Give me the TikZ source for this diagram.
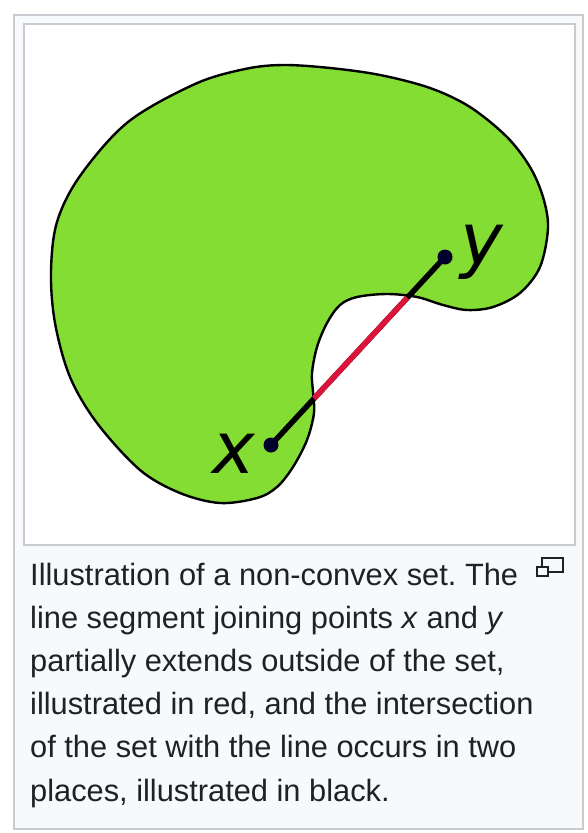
\documentclass[tikz,border=0pt]{standalone}
\usepackage{fontspec}
\setmainfont{Liberation Sans}
\newfontfamily\labelfont{DejaVu Sans}
\usetikzlibrary{calc}

\definecolor{setgreen}{RGB}{132,221,51}
\definecolor{outred}{RGB}{220,20,60}
\definecolor{dotnavy}{RGB}{0,0,45}
\definecolor{framegray}{RGB}{200,204,209}
\definecolor{capbg}{RGB}{248,249,250}
\definecolor{captext}{RGB}{32,33,34}

\begin{document}
\frenchspacing
\begin{tikzpicture}[
    x=1pt, y=-1pt,
    framebox/.style={
        draw=framegray,
        line width=2pt,
        fill=#1,
    },
    setshape/.style={
        draw=black,
        line width=2.4pt,
        fill=setgreen,
        line join=round,
    },
    segpart/.style={
        line width=5.5pt,
        draw=#1,
    },
    ptdot/.style={
        circle,
        fill=dotnavy,
        minimum size=15pt,
        inner sep=0pt,
    },
    ptlabel/.style={
        font=\labelfont\itshape\fontsize{72}{72}\selectfont,
        anchor=base,
        inner sep=0pt,
    },
    captionlines/.style={
        font=\fontsize{30.8}{43.1}\selectfont,
        text=captext,
        align=left,
        anchor=base west,
        inner sep=0pt,
    },
    iconbox/.style={
        draw=captext,
        line width=1.5pt,
    },
]
\useasboundingbox (0,0) rectangle (587,833);

% === Frame ===
\draw[framebox=capbg] (13.5,14.5) rectangle (583,829);
\draw[framebox=white] (23.5,24) rectangle (575,545);

% === Non-convex set ===
\draw[setshape] plot[smooth cycle, tension=0.55] coordinates {
    (283,65) (330,68) (380,75) (430,88) (470,107) (507,137)
    (530,167) (543,197) (548,228) (540,267) (520,293) (493,307)
    (467,310) (443,305) (417,297) (387,294) (357,297) (340,305)
    (327,323) (317,347) (312,373) (313,392) (314,413) (307,440)
    (293,467) (277,487) (257,498) (220,503) (180,493) (140,470)
    (97,423) (70,377) (55,323) (51,272) (57,222) (80,176)
    (128,122) (195,84) (245,69)
};

% === Segment ===
\coordinate (ptx) at (271,445);
\coordinate (pty) at (445,257);
\coordinate (inlo) at ($(ptx)!0.247!(pty)$);
\coordinate (inhi) at ($(ptx)!0.783!(pty)$);
\draw[segpart=black] (ptx) -- (pty);
\draw[segpart=outred] (inlo) -- (inhi);

% === Points ===
\node[ptdot] (dotx) at (ptx) {};
\node[ptdot] (doty) at (pty) {};
\node[ptlabel] (labx) at (234,473) {x};
\node[ptlabel] (laby) at (482,264) {y};

% === Caption ===
\node[captionlines] (caption) at (30,801) {
    Illustration of a non-convex set. The\\
    line segment joining points \textit{x} and \textit{y}\\
    partially extends outside of the set,\\
    illustrated in red, and the intersection\\
    of the set with the line occurs in two\\
    places, illustrated in black.
};

% === Enlarge icon ===
\draw[iconbox] (542,558) rectangle (563,572);
\draw[iconbox, fill=capbg] (537,567) rectangle (548,576);

\end{tikzpicture}
\end{document}
